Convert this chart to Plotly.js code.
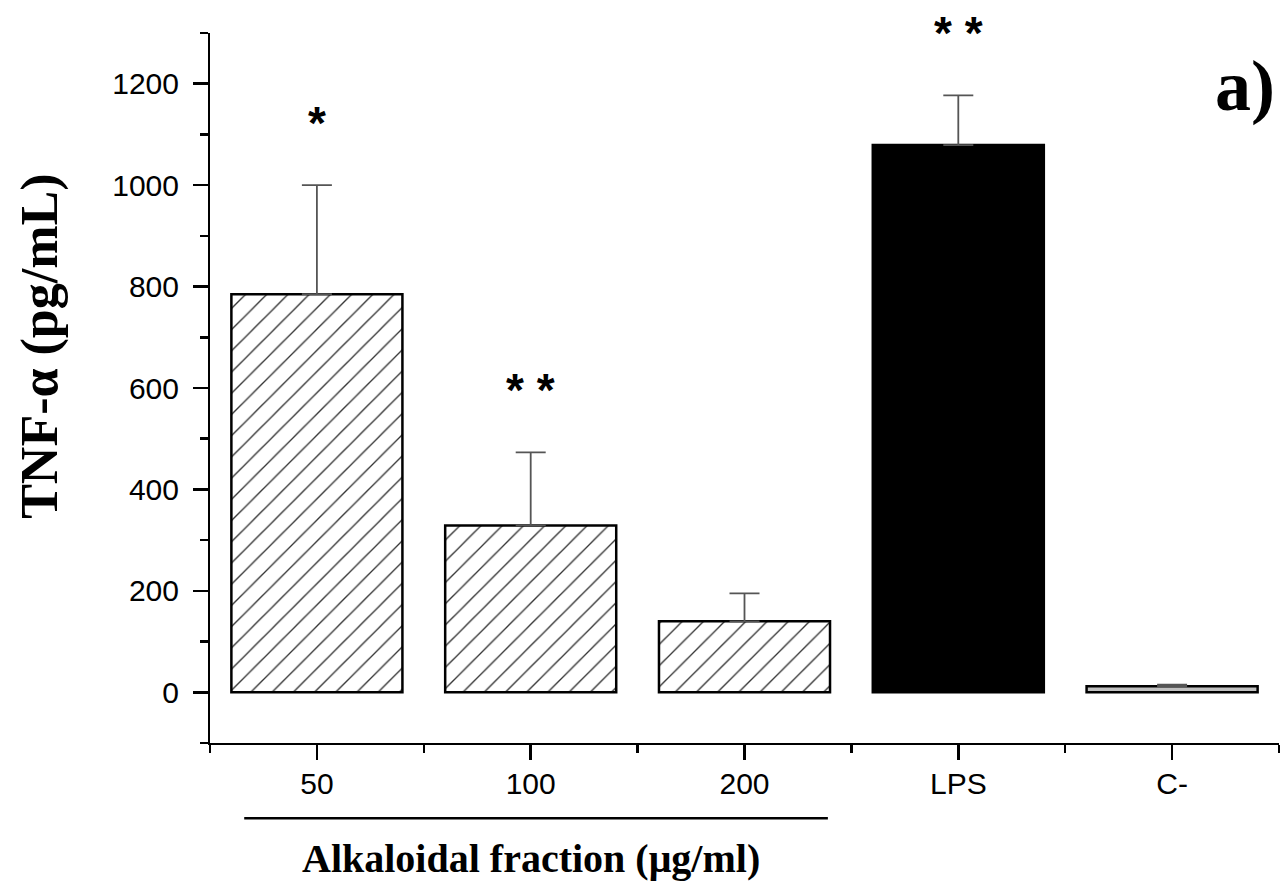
<!DOCTYPE html>
<html>
<head>
<meta charset="utf-8">
<script src="https://cdn.plot.ly/plotly-3.0.1.min.js"></script>
<style>html,body{margin:0;padding:0;background:#fff}#chart{width:1284px;height:885px}</style>
</head>
<body>
<div id="chart"></div>
<script>
// ---- data ----
const categories = ["50", "100", "200", "LPS", "C-"];
const tnfMean = [785, 329, 140, 1079, 12];
const tnfErr = [215, 144, 55, 98, 3];
const significance = ["*", "* *", "", "* *", ""];
const barFill = ["#ffffff", "#ffffff", "#ffffff", "#000000", "#c0c0c0"];
const hatched = [true, true, true, false, false];
const yTitle = "TNF-α (pg/mL)";
const groupLabel = "Alkaloidal fraction (μg/ml)";
const panelLabel = "a)";

const xIdx = categories.map((c, i) => i);

function pick(arr, want) { return arr.filter((v, i) => hatched[i] === want); }

const hatchTrace = {
  type: "bar",
  x: pick(xIdx, true),
  y: pick(tnfMean, true),
  width: 0.8,
  marker: {
    color: "#ffffff",
    line: {color: "#000", width: 2.5},
    pattern: {shape: "/", fgcolor: "#333333", bgcolor: "#ffffff", size: 15, solidity: 0.09, fillmode: "replace"}
  },
  error_y: {type: "data", array: pick(tnfErr, true), symmetric: false, arrayminus: pick(tnfErr, true).map(() => 0),
            color: "#555", thickness: 1.8, width: 15},
  hoverinfo: "skip"
};
const solidTrace = {
  type: "bar",
  x: pick(xIdx, false),
  y: pick(tnfMean, false),
  width: 0.8,
  marker: {color: pick(barFill, false), line: {color: "#000", width: 2.5}},
  error_y: {type: "data", array: pick(tnfErr, false), symmetric: false, arrayminus: pick(tnfErr, false).map(() => 0),
            color: "#555", thickness: 1.8, width: 15},
  hoverinfo: "skip"
};

const annotations = [];
significance.forEach((s, i) => {
  if (!s) return;
  annotations.push({
    x: xIdx[i], y: tnfMean[i] + tnfErr[i], xref: "x", yref: "y",
    text: s, showarrow: false, yanchor: "bottom", yshift: 34,
    font: {family: "Liberation Sans", size: 46, color: "#000", weight: "bold"}
  });
});
annotations.push({
  x: 1, y: -0.163, xref: "x", yref: "paper", text: "<b>" + groupLabel + "</b>",
  showarrow: false, yanchor: "middle",
  font: {family: "Liberation Serif", size: 40, color: "#000"}
});
annotations.push({
  x: 0.998, y: 0.925, xref: "paper", yref: "paper", text: "<b>" + panelLabel + "</b>",
  showarrow: false, xanchor: "right", yanchor: "middle",
  font: {family: "Liberation Serif", size: 72, color: "#000"}
});
annotations.push({
  x: -0.159, y: 0.558, xref: "paper", yref: "paper", text: "<b>" + yTitle + "</b>",
  showarrow: false, textangle: -90, xanchor: "center", yanchor: "middle",
  font: {family: "Liberation Serif", size: 52, color: "#000"}
});

const layout = {
  width: 1284, height: 885,
  margin: {l: 210, r: 5, t: 33, b: 142},
  paper_bgcolor: "#fff", plot_bgcolor: "#fff",
  showlegend: false,
  font: {family: "Liberation Sans", color: "#000"},
  xaxis: {
    range: [-0.5, 4.5], tickmode: "array", tickvals: xIdx, ticktext: categories,
    showline: true, linecolor: "#000", linewidth: 2, mirror: false,
    ticks: "outside", ticklen: 15, tickwidth: 2.5, tickcolor: "#000",
    ticklabelstandoff: -2,
    minor: {tickmode: "array", tickvals: [-0.5, 0.5, 1.5, 2.5, 3.5, 4.5], ticks: "outside", ticklen: 8, tickwidth: 2.5, tickcolor: "#000"},
    showgrid: false, zeroline: false, fixedrange: true,
    tickfont: {family: "Liberation Sans", size: 30, color: "#000"}
  },
  yaxis: {
    range: [-100, 1300], tick0: 0, dtick: 200,
    showline: true, linecolor: "#000", linewidth: 2,
    ticks: "outside", ticklen: 15, tickwidth: 2.5, tickcolor: "#000",
    ticklabelstandoff: 8,
    minor: {tick0: -100, dtick: 100, ticks: "outside", ticklen: 8, tickwidth: 2.5, tickcolor: "#000"},
    showgrid: false, zeroline: false, fixedrange: true,
    tickfont: {family: "Liberation Sans", size: 30, color: "#000"}
  },
  shapes: [{
    type: "line", xref: "x", yref: "paper", x0: -0.34, x1: 2.39, y0: -0.106, y1: -0.106,
    line: {color: "#000", width: 2.5}
  }],
  annotations: annotations
};

Plotly.newPlot("chart", [hatchTrace, solidTrace], layout, {displayModeBar: false, staticPlot: true});
</script>
</body>
</html>
